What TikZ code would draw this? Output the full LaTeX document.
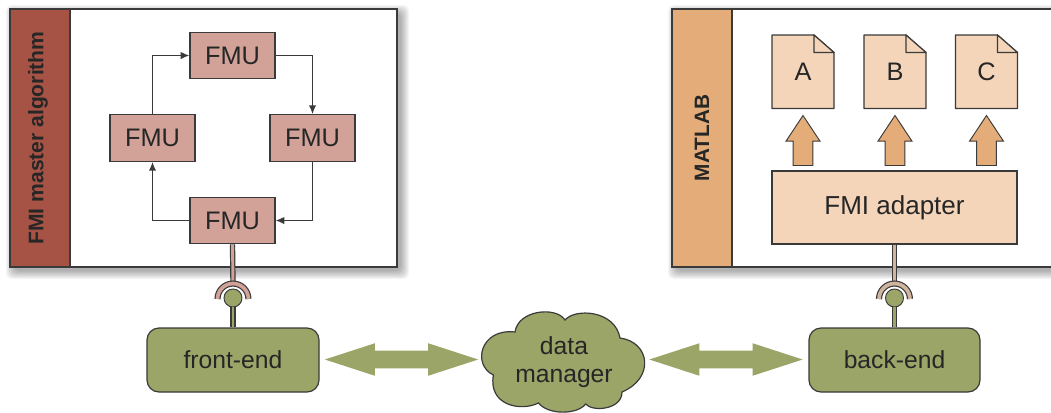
\documentclass[tikz,border=0pt]{standalone}
\usepackage{fontspec}
\setmainfont{Liberation Sans}
\usetikzlibrary{arrows.meta, shapes.arrows}

\definecolor{brickred}{HTML}{A65345}
\definecolor{fmupink}{HTML}{D2A298}
\definecolor{sand}{HTML}{E4AC78}
\definecolor{peach}{HTML}{F4D5BA}
\definecolor{olive}{HTML}{9BA568}
\definecolor{inkline}{HTML}{3A3A3A}

\tikzset{
    every node/.style={text=black!85, font=\fontsize{18.5}{19.5}\selectfont},
    panel/.style={draw=inkline, line width=0.9pt, fill=white},
    fmubox/.style={draw=inkline, line width=0.9pt, fill=fmupink, minimum width=63.75pt, minimum height=35pt, inner sep=0pt},
    adapterbox/.style={draw=inkline, line width=0.9pt, fill=peach, minimum width=183.75pt, minimum height=54.75pt, inner sep=0pt},
    endbox/.style={draw=inkline, line width=0.9pt, fill=olive, rounded corners=9pt, minimum height=48pt, inner sep=0pt},
    paper/.style={draw=inkline, line width=0.9pt, fill=peach, line join=round},
    ball/.style={circle, draw=inkline, line width=0.7pt, fill=olive, minimum size=13.5pt, inner sep=0pt},
    bigarrow/.style={double arrow, fill=olive, minimum height=115pt, inner xsep=0pt, inner ysep=6.4pt,
        double arrow head extend=5.6pt, double arrow tip angle=36},
    uparrow/.style={single arrow, rotate=90, draw=inkline, line width=0.7pt, fill=sand, minimum height=37.5pt,
        inner xsep=0pt, inner ysep=7.1pt, single arrow head extend=5.25pt, single arrow tip angle=67},
    flow/.style={-{Latex[length=6.5pt,width=5.5pt]}, draw=inkline, line width=1pt},
}

\begin{document}
\begin{tikzpicture}[x=0.75pt, y=-0.75pt]
    \clip (0,0) rectangle (1051,412);
    % soft shadows of the two panels
    \foreach \s in {1,...,9}
    {
    \fill[black, opacity=0.04, rounded corners=4pt] (15-\s,14-\s) rectangle (400+\s,270+\s);
    \fill[black, opacity=0.04, rounded corners=4pt] (677-\s,14-\s) rectangle (1070,270+\s);
    }
    % panels
    \draw[panel] (10,9) rectangle (397,267);
    \draw[panel] (672,9) rectangle (1070,267);
    \draw[panel, fill=brickred] (10,9) rectangle (70,267);
    \draw[panel, fill=sand] (672,9) rectangle (732,267);
    \node[rotate=90, font=\fontsize{15.8}{17}\selectfont\bfseries] (master) at (38,138) {FMI master algorithm};
    \node[rotate=90, font=\fontsize{15.6}{17}\selectfont\bfseries] (matlab) at (702,138) {MATLAB};

    \node[fmubox, font=\fontsize{19}{20}\selectfont] (fmuT) at (232.5,55.5) {FMU};
    \node[fmubox, font=\fontsize{19}{20}\selectfont] (fmuL) at (152.5,138) {FMU};
    \node[fmubox, font=\fontsize{19}{20}\selectfont] (fmuR) at (312.5,138) {FMU};
    \node[fmubox, font=\fontsize{19}{20}\selectfont] (fmuB) at (232.5,220.5) {FMU};
    \draw[flow] (fmuT.east) -| (fmuR.north);
    \draw[flow] (fmuR.south) |- (fmuB.east);
    \draw[flow] (fmuB.west) -| (fmuL.south);
    \draw[flow] (fmuL.north) |- (fmuT.west);

    \foreach \x/\name in {803/A,895/B,986.5/C}
    {
    \draw[paper] (\x-31,35) -- (\x+11,35) -- (\x+31,52.5) -- (\x+31,108.5) -- (\x-31,108.5) -- cycle;
    \draw[paper] (\x+11,35) -- (\x+11,52.5) -- (\x+31,52.5) -- cycle;
    \node[font=\fontsize{19}{20}\selectfont] (doc\name) at (\x,72) {\name};
    \node[uparrow] (up\name) at (\x,148) {};
    }
    \node[adapterbox, font=\fontsize{19.5}{20}\selectfont] (adapter) at (894.5,207.5) {FMI adapter};

    \node[endbox, minimum width=129pt] (frontend) at (233,360) {front-end};
    \node[endbox, minimum width=128.25pt] (backend) at (894.5,360) {back-end};
    % the cloud, one arc per puff
    \draw[draw=inkline, line width=0.9pt, fill=olive] (515,332)
        .. controls (518,310) and (556,306) .. (565,320)
        .. controls (575,308) and (615,310) .. (620,338)
        .. controls (650,342) and (655,378) .. (622,392)
        .. controls (622,410) and (592,412) .. (585.7,404)
        .. controls (577,415) and (548,415) .. (538.5,403)
        .. controls (520,412) and (488,405) .. (493.4,375)
        .. controls (472,365) and (480,328) .. (515,332) -- cycle;
    \node[align=center] (manager) at (564,362) {data\\[1.5pt]manager};
    \node[bigarrow] (arrowL) at (401.5,359.5) {};
    \node[bigarrow] (arrowR) at (726,359.5) {};

    % plugs and sockets
    \node[ball] (ballL) at (233,298) {};
    \node[ball] (ballR) at (894.5,298) {};
    \coordinate (sockL) at (233,284);
    \coordinate (sockR) at (894.5,284);
    \draw[draw=inkline, line width=4pt] (ballL.south) -- (frontend.north);
    \draw[draw=olive, line width=2.2pt] (ballL.south) -- (frontend.north);
    \draw[draw=inkline, line width=4pt] (ballR.south) -- (backend.north);
    \draw[draw=olive, line width=2.2pt] (ballR.south) -- (backend.north);
    \draw[draw=inkline, line width=4pt] (fmuB.south) -- (sockL);
    \draw[draw=fmupink, line width=2.2pt] (fmuB.south) -- (sockL);
    \draw[draw=inkline, line width=4pt] (adapter.south) -- (sockR);
    \draw[draw=peach!85!black, line width=2.2pt] (adapter.south) -- (sockR);
    \foreach \x/\c in {233/fmupink,894.5/peach!85!black}
    {
    \draw[draw=inkline, line width=4.6pt] (\x-15.5,299) arc[start angle=180, end angle=0, radius=11.6pt];
    \draw[draw=\c, line width=2.8pt] (\x-15.5,299) arc[start angle=180, end angle=0, radius=11.6pt];
    }
\end{tikzpicture}
\end{document}
